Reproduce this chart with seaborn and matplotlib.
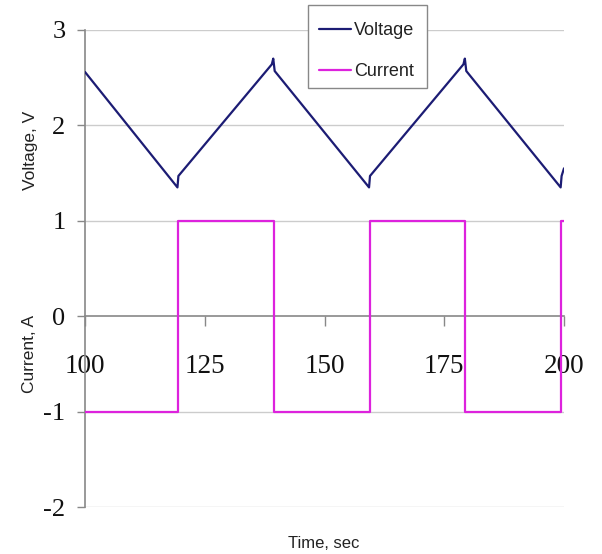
import matplotlib
matplotlib.use("Agg")
import matplotlib.pyplot as plt
from matplotlib.patches import Rectangle
import seaborn as sns
import pandas as pd

# Data
time_v = [100, 119.3, 119.5, 139.0, 139.3, 139.6, 159.3, 159.5, 179.0, 179.3, 179.6, 199.3, 199.5, 200]
voltage = [2.56, 1.35, 1.47, 2.64, 2.70, 2.57, 1.35, 1.47, 2.64, 2.70, 2.57, 1.35, 1.47, 1.55]
time_i = [100, 119.4, 139.4, 159.4, 179.4, 199.4, 200]
current = [-1, 1, -1, 1, -1, 1, 1]
x_ticks = [100, 125, 150, 175, 200]
y_ticks = [-2, -1, 0, 1, 2, 3]

sns.set_theme(style="white")
plt.rcParams['font.family'] = ['Liberation Sans', 'DejaVu Sans']

fig = plt.figure(figsize=(6.02, 5.54), dpi=100)
W, H = 602, 554
ax = fig.add_axes([85 / W, 47 / H, (564 - 85) / W, (507 - 30) / H])

dv = pd.DataFrame({"t": time_v, "v": voltage})
di = pd.DataFrame({"t": time_i, "i": current})

sns.lineplot(data=dv, x="t", y="v", ax=ax, color="#1c1c74", linewidth=1.6,
             estimator=None, sort=False, label="Voltage", zorder=3)
sns.lineplot(data=di, x="t", y="i", ax=ax, color="#dd22dd", linewidth=1.6,
             estimator=None, sort=False, drawstyle="steps-post", label="Current", zorder=3)

ax.set_xlim(100, 200)
ax.set_ylim(-2, 3)
ax.set_xticks(x_ticks)
ax.set_yticks(y_ticks)
ax.set_xticklabels([str(t) for t in x_ticks])
ax.set_yticklabels([str(t) for t in y_ticks])

for y in [-2, -1, 1, 2, 3]:
    ax.axhline(y, color="#cccccc", linewidth=1.0, zorder=1)

for s in ["top", "right"]:
    ax.spines[s].set_visible(False)
ax.spines["bottom"].set_position(("data", 0))
for s in ["left", "bottom"]:
    ax.spines[s].set_color("#888888")
    ax.spines[s].set_linewidth(1.2)
    ax.spines[s].set_zorder(2)

serif = ['Liberation Serif', 'DejaVu Serif']
ax.tick_params(axis="x", direction="out", length=7, width=1, color="#888888",
               pad=20, labelsize=19.5, bottom=True)
ax.tick_params(axis="y", direction="out", length=6, width=1, color="#888888",
               pad=8, labelsize=19, left=True)
for lab in ax.get_xticklabels() + ax.get_yticklabels():
    lab.set_family(serif)
    lab.set_color("#111111")

ax.set_xlabel("")
ax.set_ylabel("")

fig.text(30 / W, 1 - 150 / H, "Voltage, V", rotation=90, ha="center", va="center",
         fontsize=12.5, color="#222222")
fig.text(30 / W, 1 - 354 / H, "Current, A", rotation=90, ha="center", va="center",
         fontsize=12.5, color="#222222")
fig.text(324 / W, 1 - 543 / H, "Time, sec", ha="center", va="center",
         fontsize=12, color="#222222")

# Legend frame (drawn separately) and frameless legend placed inside
frame = Rectangle((308 / W, 1 - 88 / H), (427 - 308) / W, (88 - 5) / H,
                  transform=fig.transFigure, facecolor="white", edgecolor="#888888",
                  linewidth=1.0, zorder=5)
fig.patches.append(frame)

leg = ax.legend(loc="upper left", bbox_to_anchor=(308 / W, 1 - 11 / H),
                bbox_transform=fig.transFigure, borderaxespad=0, fontsize=13,
                frameon=False, handlelength=1.8, handletextpad=0.15,
                labelspacing=1.35, borderpad=0.6)
leg.set_zorder(6)
leg.remove()
fig.add_artist(leg)
leg.set_zorder(6)
for t in leg.get_texts():
    t.set_color("#222222")

fig.savefig("out.png", dpi=100, facecolor="white")
